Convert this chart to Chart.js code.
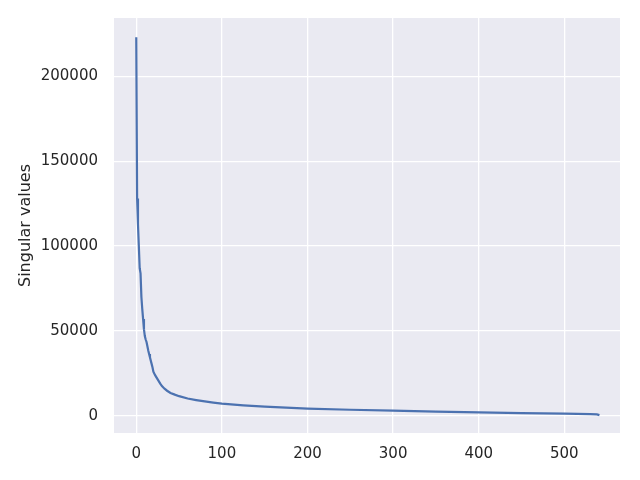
<!DOCTYPE html>
<html>
<head>
<meta charset="utf-8">
<script src="https://cdn.jsdelivr.net/npm/chart.js@4"></script>
<style>
  html, body { margin: 0; padding: 0; background: #fff; }
  #wrap { width: 640px; height: 480px; }
</style>
</head>
<body>
<div id="wrap"><canvas id="svChart"></canvas></div>
<script>
// singular value index / value
const xs = [0, 1, 2, 3, 4, 5, 6, 7, 8, 9, 10, 11, 12, 13, 14, 15, 16, 17, 18, 19, 20,
  22, 25, 28, 30, 33, 36, 40, 45, 50, 60, 70, 80, 90, 100, 125, 150, 175, 200,
  250, 300, 350, 400, 450, 500, 530, 538, 541];
const ys = [223000, 128000, 113000, 100000, 87000, 84000, 70000, 63000, 57000, 51000, 47000,
  45000, 43500, 41000, 38500, 36500, 34500, 32500, 30500, 28500, 26000,
  24000, 21500, 19000, 17500, 16000, 14800, 13500, 12500, 11600, 10200, 9300, 8500, 7800, 7200,
  6200, 5400, 4800, 4300, 3600, 3050, 2550, 2050, 1650, 1300, 1050, 900, 450];
const xTicks = [0, 100, 200, 300, 400, 500];
const yTicks = [0, 50000, 100000, 150000, 200000];

const TEXT = '#262626';
const FONT = 'DejaVu Sans';

// seaborn darkgrid background behind the plot
const plotBg = {
  id: 'plotBg',
  beforeDraw(chart) {
    const { ctx, chartArea: a } = chart;
    ctx.save();
    ctx.fillStyle = '#EAEAF2';
    ctx.fillRect(a.left, a.top, a.right - a.left, a.bottom - a.top);
    ctx.restore();
  }
};

new Chart(document.getElementById('svChart'), {
  type: 'line',
  data: {
    datasets: [{
      data: xs.map((x, i) => ({ x: x, y: ys[i] })),
      borderColor: '#4C72B0',
      borderWidth: 2.2,
      pointRadius: 0,
      tension: 0,
      fill: false
    }]
  },
  options: {
    responsive: true,
    maintainAspectRatio: false,
    animation: false,
    layout: { padding: { top: 18, right: 20, left: 0, bottom: 0 } },
    plugins: { legend: { display: false }, tooltip: { enabled: false } },
    scales: {
      x: {
        type: 'linear',
        min: -26,
        max: 565,
        afterBuildTicks: s => { s.ticks = xTicks.map(v => ({ value: v })); },
        afterFit: s => { s.height = 47; s.paddingLeft = 0; s.paddingRight = 0; },
        grid: { color: '#ffffff', lineWidth: 1.3, drawTicks: false },
        border: { display: false },
        ticks: { color: TEXT, font: { family: FONT, size: 15 }, padding: 12, maxRotation: 0 }
      },
      y: {
        min: -10100,
        max: 234400,
        afterBuildTicks: s => { s.ticks = yTicks.map(v => ({ value: v })); },
        afterFit: s => { s.width = 114; s.paddingTop = 0; s.paddingBottom = 0; },
        grid: { color: '#ffffff', lineWidth: 1.3, drawTicks: false },
        border: { display: false },
        ticks: { color: TEXT, font: { family: FONT, size: 15 }, padding: 16, callback: v => String(v) },
        title: {
          display: true,
          text: 'Singular values',
          color: TEXT,
          font: { family: FONT, size: 16 },
          padding: { top: 16, bottom: 0 }
        }
      }
    }
  },
  plugins: [plotBg]
});
</script>
</body>
</html>
